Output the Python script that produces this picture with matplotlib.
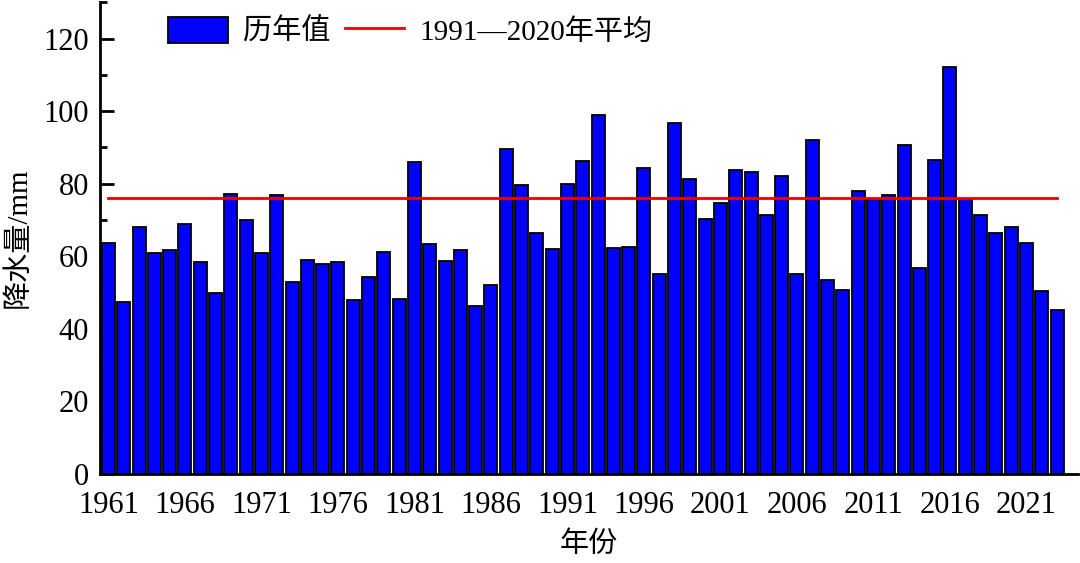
import numpy as np
import matplotlib.pyplot as plt
from matplotlib.ticker import MultipleLocator, FixedLocator

plt.rcParams['font.family'] = ['Liberation Serif', 'Noto Sans CJK SC']

# annual precipitation, 1961-2023 (mm)
years = np.arange(1961, 2024)
precip = [63.8, 47.5, 68.1, 60.8, 61.8, 68.9, 58.3, 49.8, 77.2, 70.1,
          60.8, 76.9, 53.0, 58.9, 57.9, 58.3, 48.0, 54.4, 61.3, 48.1,
          86.1, 63.5, 58.8, 61.7, 46.3, 52.0, 89.7, 79.6, 66.5, 61.9,
          79.9, 86.2, 98.9, 62.2, 62.5, 84.3, 55.2, 96.7, 81.4, 70.4,
          74.6, 83.7, 83.1, 71.4, 82.2, 55.1, 92.0, 53.6, 50.8, 77.9,
          75.8, 76.9, 90.7, 56.9, 86.5, 112.1, 75.8, 71.3, 66.4, 68.2,
          63.6, 50.3, 45.2]
normal_1991_2020 = 76.0
tick_years = list(range(1961, 2024, 5))

fig = plt.figure(figsize=(10.8, 5.63), dpi=100)
ax = fig.add_axes([0.0926, 0.158, 0.906, 0.838])

bars = ax.bar(years, precip, width=0.85, color='#0000ff', edgecolor='black',
              linewidth=1.3, label='历年值', zorder=2)
line, = ax.plot([years[0], years[-1]], [normal_1991_2020] * 2, color='#ee0000',
                linewidth=2, label='1991—2020年平均', zorder=3)

ax.set_xlim(1960.45, 2024.4)
ax.set_ylim(0, 130)
ax.xaxis.set_major_locator(FixedLocator(tick_years))
ax.yaxis.set_major_locator(FixedLocator(range(0, 121, 20)))
ax.yaxis.set_minor_locator(MultipleLocator(10))

for s in ['top', 'right']:
    ax.spines[s].set_visible(False)
for s in ['left', 'bottom']:
    ax.spines[s].set_linewidth(2)

ax.tick_params(axis='both', which='major', direction='in', length=10,
               width=2, labelsize=22, pad=8)
ax.tick_params(axis='y', which='minor', direction='in', length=5, width=2)
ax.tick_params(axis='x', which='major', pad=12)

ax.set_xlabel('年份', fontsize=21, labelpad=8)
ax.set_ylabel('降水量/mm', fontsize=21, labelpad=8)

ax.legend([bars, line], ['历年值', '1991—2020年平均'], loc='upper left',
          bbox_to_anchor=(0.043, 1.025), ncol=2, frameon=False, fontsize=21,
          handlelength=2.05, handleheight=1.0, columnspacing=0.5,
          handletextpad=0.5)

fig.savefig('out.png', dpi=100)
